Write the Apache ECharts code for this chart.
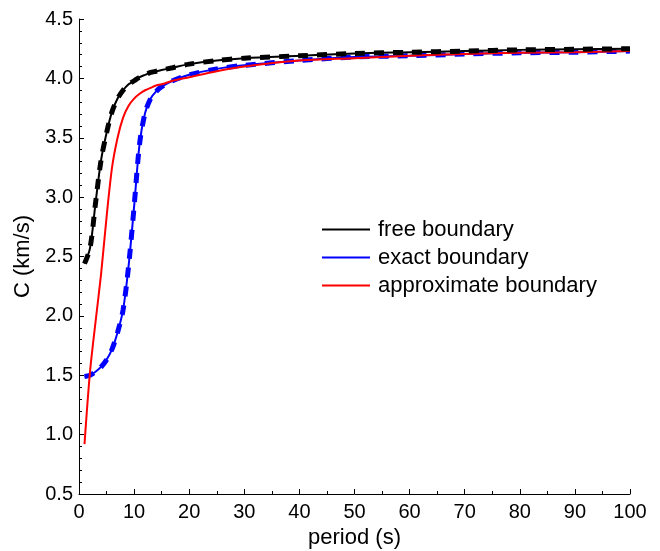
<!DOCTYPE html>
<html>
<head>
<meta charset="utf-8" />
<script src="https://cdn.jsdelivr.net/npm/echarts@6/dist/echarts.min.js"></script>
<style>
  html, body { margin: 0; padding: 0; background: #fff; }
  #chart { width: 660px; height: 551px; }
</style>
</head>
<body>
<div id="chart"></div>
<script>
// period (s) where each curve was read
var periods = [1, 2, 3, 4, 5, 6, 7, 8, 9, 10, 11, 12, 13, 14, 15, 17, 20, 25, 30, 40, 50, 60, 70, 80, 90, 100];
// phase velocity C (km/s)
var freeBoundary   = [2.44, 2.57, 2.95, 3.31, 3.54, 3.72, 3.83, 3.90, 3.95, 3.98, 4.01, 4.03, 4.05, 4.06, 4.07, 4.09, 4.12, 4.15, 4.17, 4.19, 4.21, 4.22, 4.23, 4.24, 4.245, 4.25];
var exactBoundary  = [1.49, 1.50, 1.53, 1.57, 1.63, 1.72, 1.86, 2.05, 2.42, 2.92, 3.45, 3.71, 3.83, 3.89, 3.93, 3.98, 4.03, 4.08, 4.11, 4.15, 4.18, 4.19, 4.205, 4.215, 4.22, 4.23];
var approxBoundary = [0.92, 1.53, 1.95, 2.35, 2.83, 3.25, 3.50, 3.67, 3.77, 3.83, 3.87, 3.90, 3.92, 3.94, 3.95, 3.98, 4.01, 4.06, 4.10, 4.15, 4.17, 4.19, 4.205, 4.215, 4.22, 4.23];
var legendNames = ['free boundary', 'exact boundary', 'approximate boundary'];

function pairs(ys) {
  return periods.map(function (p, i) { return [p, ys[i]]; });
}

var font = 'Liberation Sans, Arial, sans-serif';
var chart = echarts.init(document.getElementById('chart'));

function solid(name, color, ys) {
  return {
    name: name, type: 'line', data: pairs(ys), smooth: 0.3,
    showSymbol: false, symbol: 'none', color: color,
    lineStyle: { color: color, width: 2 }
  };
}
function dashed(name, color, ys) {
  return {
    name: name, type: 'line', data: pairs(ys), smooth: 0.3,
    showSymbol: false, symbol: 'none', color: color,
    lineStyle: { color: color, width: 5, type: [10, 9], cap: 'butt' }
  };
}

chart.setOption({
  animation: false,
  grid: { left: 79, top: 19, width: 551, height: 475, containLabel: false, outerBoundsMode: 'none' },
  legend: {
    data: legendNames,
    orient: 'vertical',
    left: 317, top: 213,
    icon: 'rect', itemWidth: 48, itemHeight: 2, itemGap: 5,
    textStyle: { fontFamily: font, fontSize: 22, color: '#000', lineHeight: 23, padding: [0, 0, 0, 3] }
  },
  xAxis: {
    type: 'value', min: 0, max: 100, interval: 10,
    name: 'period (s)', nameLocation: 'middle', nameGap: 32,
    nameTextStyle: { fontFamily: font, fontSize: 22, color: '#000' },
    axisLine: { lineStyle: { color: '#000', width: 1 } },
    axisTick: { inside: true, length: 5, lineStyle: { color: '#000' } },
    minorTick: { show: true, splitNumber: 2, length: 3, lineStyle: { color: '#000' } },
    axisLabel: { fontFamily: font, fontSize: 20, color: '#000', margin: 8 },
    splitLine: { show: false }
  },
  yAxis: {
    type: 'value', min: 0.5, max: 4.5, interval: 0.5,
    name: 'C (km/s)', nameLocation: 'middle', nameGap: 44, nameRotate: 90,
    nameTextStyle: { fontFamily: font, fontSize: 22, color: '#000' },
    axisLine: { show: true, lineStyle: { color: '#000', width: 1 } },
    axisTick: { show: true, inside: true, length: 5, lineStyle: { color: '#000' } },
    minorTick: { show: true, splitNumber: 5, length: 3, lineStyle: { color: '#000' } },
    axisLabel: {
      fontFamily: font, fontSize: 20, color: '#000', margin: 6,
      formatter: function (v) { return v.toFixed(1); }
    },
    splitLine: { show: false }
  },
  series: [
    solid('exact boundary', '#0000ff', exactBoundary),
    dashed('exact boundary (dashed)', '#0000ff', exactBoundary),
    solid('approximate boundary', '#ff0000', approxBoundary),
    solid('free boundary', '#000000', freeBoundary),
    dashed('free boundary (dashed)', '#000000', freeBoundary)
  ]
});
</script>
</body>
</html>
